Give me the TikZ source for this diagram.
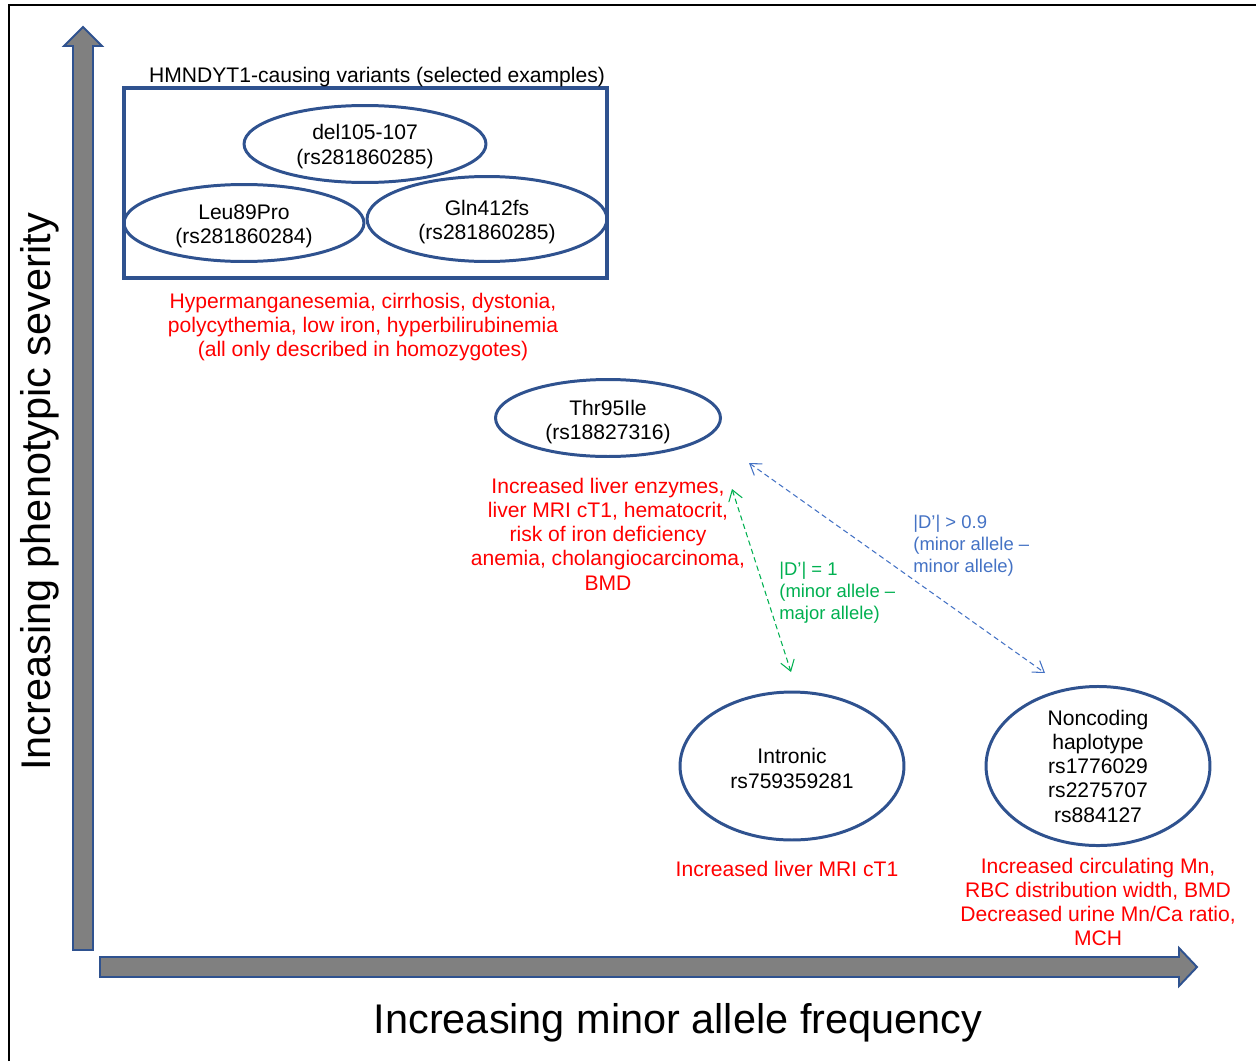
\documentclass[tikz,border=0pt]{standalone}
\usepackage{fontspec}
\setmainfont{Liberation Sans}
\usetikzlibrary{shapes.geometric,arrows.meta}
\definecolor{bblue}{RGB}{47,82,143}
\definecolor{agray}{RGB}{128,128,128}
\definecolor{lgreen}{RGB}{0,176,80}
\definecolor{lblue}{RGB}{68,114,196}
\definecolor{vred}{RGB}{255,0,0}
\begin{document}
\begin{tikzpicture}[x=0.02cm,y=-0.02cm,
  blockarrow/.style={draw=bblue,fill=agray,line width=1.1pt,line join=miter},
  variant/.style={ellipse,draw=bblue,line width=1.7pt,inner sep=0pt,align=center,
    font=\fontsize{12}{13.8}\selectfont},
  effect/.style={text=vred,align=center,inner sep=0pt,font=\fontsize{12}{13.8}\selectfont},
  ldlabel/.style={anchor=west,align=left,inner sep=0pt,font=\fontsize{10.5}{12.4}\selectfont},
  ldarrow/.style={dashed,dash pattern=on 3pt off 2pt,line width=0.6pt,
    {Straight Barb[length=6pt,width=8pt]}-{Straight Barb[length=6pt,width=8pt]}},
  axislabel/.style={inner sep=0pt,font=\fontsize{23.6}{27}\selectfont}]
\useasboundingbox (0,0) rectangle (1256,1061);
% frame
\draw[line width=1.2pt,black] (9,1061) -- (9,5) -- (1256,5);
% axes
\draw[blockarrow] (73,950) -- (73,46) -- (64,46) -- (83,27) -- (102,46) -- (93,46) -- (93,950) -- cycle;
\draw[blockarrow] (100,957) -- (1179,957) -- (1179,948) -- (1197,967) -- (1179,986) -- (1179,977) -- (100,977) -- cycle;
\node[axislabel] (xlab) at (678,1023) {Increasing minor allele frequency};
\node[axislabel,rotate=90] (ylab) at (40,492) {Increasing phenotypic severity};
% HMNDYT1 box
\node[draw=bblue,line width=2.3pt,minimum width=9.66cm,minimum height=3.8cm,inner sep=0pt] (box) at (365.5,183) {};
\node[inner sep=0pt,font=\fontsize{12}{13.8}\selectfont] (boxtitle) at (377,77) {HMNDYT1-causing variants (selected examples)};
\node[variant,minimum width=4.84cm,minimum height=1.54cm] (del) at (365,144) {\rule{0pt}{11.5pt}del105-107\\(rs281860285)};
\node[variant,minimum width=4.8cm,minimum height=1.54cm] (leu) at (244,223) {\rule{0pt}{12.5pt}Leu89Pro\\(rs281860284)};
\node[variant,minimum width=4.8cm,minimum height=1.7cm] (gln) at (487,219) {\rule{0pt}{12.5pt}Gln412fs\\(rs281860285)};
\node[effect] (boxeff) at (363,327) {Hypermanganesemia, cirrhosis, dystonia,\\polycythemia, low iron, hyperbilirubinemia\\(all only described in homozygotes)};
% Thr95Ile
\node[variant,minimum width=4.5cm,minimum height=1.54cm] (thr) at (608,418) {\rule{0pt}{13.5pt}Thr95Ile\\(rs18827316)};
\node[effect] (threff) at (608,534) {Increased liver enzymes,\\liver MRI cT1, hematocrit,\\risk of iron deficiency\\anemia, cholangiocarcinoma,\\BMD};
% Intronic
\node[variant,minimum width=4.48cm,minimum height=2.96cm] (intr) at (792,766) {\rule{0pt}{11.5pt}Intronic\\rs759359281};
\node[effect] (intreff) at (787,869) {Increased liver MRI cT1};
% Noncoding
\node[variant,minimum width=4.48cm,minimum height=2.96cm] (nonc) at (1098,766) {Noncoding\\haplotype\\rs1776029\\rs2275707\\rs884127};
\node[effect] (noneff) at (1098,902) {Increased circulating Mn,\\RBC distribution width, BMD\\Decreased urine Mn/Ca ratio,\\MCH};
% LD arrows
\coordinate (gA) at (732,489);
\coordinate (gB) at (791,672);
\coordinate (bA) at (749,463);
\coordinate (bB) at (1045,673);
\draw[ldarrow,lgreen] (gA) -- (gB);
\draw[ldarrow,lblue] (bA) -- (bB);
\node[ldlabel,text=lgreen] (glab) at (779,593) {|D’| = 1\\(minor allele –\\major allele)};
\node[ldlabel,text=lblue] (blab) at (913,546) {|D’| > 0.9\\(minor allele –\\minor allele)};
\end{tikzpicture}
\end{document}
